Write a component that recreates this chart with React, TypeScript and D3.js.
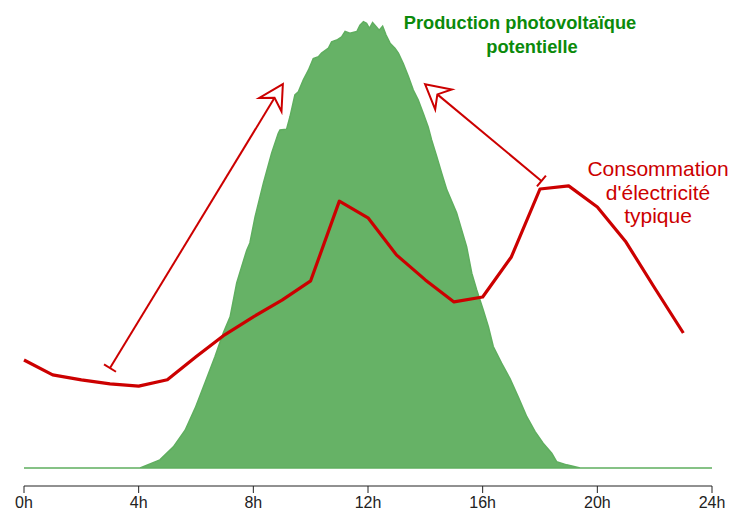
import { useEffect } from "react";
import * as d3 from "d3";

// potential PV output (hour, relative value 0-100)
const pvHours = [
  0, 4.05, 4.74, 5.21, 5.62, 5.97, 6.31, 6.66, 6.95, 7.19, 7.42, 7.59, 7.77, 7.88,
  8.06, 8.35, 8.64, 8.87, 8.93, 9.16, 9.28, 9.45, 9.57, 9.74, 9.92, 10.09, 10.27,
  10.38, 10.62, 10.73, 10.91, 11.08, 11.2, 11.37, 11.61, 11.72, 11.84, 11.95, 12.05,
  12.16, 12.28, 12.39, 12.51, 12.63, 12.77, 12.94, 13.06, 13.23, 13.41, 13.58, 13.75,
  13.93, 14.1, 14.22, 14.4, 14.57, 14.75, 15.09, 15.44, 15.62, 15.79, 16.02, 16.2,
  16.37, 16.66, 16.95, 17.24, 17.54, 17.83, 18.11, 18.41, 18.58, 18.93, 19.4, 24,
];
const pvValues = [
  0, 0, 1.8, 4.7, 8.4, 13.3, 18.9, 24.7, 30.0, 33.6, 41.1, 44.7, 48.4, 50.0,
  55.8, 63.3, 70.0, 74.4, 75.1, 75.3, 78.1, 82.9, 83.6, 86.2, 88.4, 91.0, 91.4,
  92.2, 93.3, 94.7, 95.1, 95.8, 97.0, 96.6, 97.0, 98.4, 99.2, 98.8, 97.7,
  99.0, 98.1, 97.3, 98.2, 96.2, 94.4, 93.3, 92.2, 89.9, 87.0, 84.0, 81.8,
  78.8, 75.8, 72.9, 69.2, 65.5, 61.8, 56.7, 49.2, 43.3, 39.6, 35.1, 31.4,
  27.0, 23.3, 19.9, 15.8, 11.4, 8.1, 5.5, 3.3, 1.4, 0.7, 0, 0,
];

// typical electricity consumption, one value per hour 0h..23h
const loadHours = d3.range(0, 24);
const loadValues = [
  24.0, 20.7, 19.6, 18.7, 18.2, 19.6, 24.7, 29.6, 33.6, 37.3, 41.6, 59.3,
  55.6, 47.3, 41.8, 36.9, 38.0, 46.9, 62.0, 62.7, 58.0, 50.2, 40.0, 30.0,
];

const tickHours = [0, 4, 8, 12, 16, 20, 24];

// annotation arrows: [startHour, startValue, tipHour, tipValue]
const arrows = [
  [3.0, 22.2, 9.03, 85.3],
  [18.05, 63.8, 13.99, 85.3],
];

const pvTitle = ["Production photovoltaïque", "potentielle"];
const loadTitle = ["Consommation", "d'électricité", "typique"];

const W = 736;
const H = 511;
const RED = "#cc0000";
const GREEN_FILL = "#66b266";
const GREEN_TEXT = "#0b8a0b";

function Arrow({ x1, y1, x2, y2 }: { x1: number; y1: number; x2: number; y2: number }) {
  const len = Math.hypot(x2 - x1, y2 - y1);
  const ux = (x2 - x1) / len;
  const uy = (y2 - y1) / len;
  const px = -uy;
  const py = ux;
  const headLen = 24;
  const half = 13;
  const notch = 16;
  const wing = (s: number) => [x2 - ux * headLen + px * half * s, y2 - uy * headLen + py * half * s];
  const n = [x2 - ux * notch, y2 - uy * notch];
  const w1 = wing(1);
  const w2 = wing(-1);
  const tee = 7;
  return (
    <g stroke={RED} strokeWidth={2} fill="none">
      <line x1={x1} y1={y1} x2={n[0]} y2={n[1]} />
      <line x1={x1 + px * tee} y1={y1 + py * tee} x2={x1 - px * tee} y2={y1 - py * tee} />
      <path d={`M${x2},${y2}L${w1[0]},${w1[1]}L${n[0]},${n[1]}L${w2[0]},${w2[1]}Z`} fill="white" strokeLinejoin="miter" />
    </g>
  );
}

export default function App() {
  useEffect(() => {
    document.body.style.margin = "0";
  }, []);

  const x = d3.scaleLinear().domain([0, 24]).range([24, 712]);
  const y = d3.scaleLinear().domain([0, 100]).range([468, 18]);

  const pvData = pvHours.map((h, i) => [h, pvValues[i]] as [number, number]);
  const loadData = loadHours.map((h, i) => [h, loadValues[i]] as [number, number]);

  const area = d3
    .area<[number, number]>()
    .x((d) => x(d[0]))
    .y0(y(0))
    .y1((d) => y(d[1]));
  const line = d3
    .line<[number, number]>()
    .x((d) => x(d[0]))
    .y((d) => y(d[1]));

  const axisY = 486;

  return (
    <svg width={W} height={H} style={{ display: "block", background: "white" }}>
      <path d={area(pvData) ?? ""} fill={GREEN_FILL} stroke="#5fae5f" strokeWidth={1.5} />

      <path d={line(loadData) ?? ""} fill="none" stroke={RED} strokeWidth={3.2} strokeLinejoin="round" />

      {arrows.map((a, i) => (
        <Arrow key={i} x1={x(a[0])} y1={y(a[1])} x2={x(a[2])} y2={y(a[3])} />
      ))}

      <g>
        <line x1={x(0)} x2={x(24)} y1={axisY} y2={axisY} stroke="#222" strokeWidth={1} />
        {tickHours.map((h) => (
          <g key={h} transform={`translate(${x(h)},${axisY})`}>
            <line y1={0} y2={7} stroke="#222" strokeWidth={1} />
            <text
              y={22}
              textAnchor="middle"
              fontFamily="'Liberation Sans Narrow', 'Arial Narrow', 'Liberation Sans', sans-serif"
              fontSize={16}
              fill="#222"
            >
              {h}h
            </text>
          </g>
        ))}
      </g>

      <g fontFamily="'Liberation Sans', Arial, sans-serif" fontWeight="bold" fontSize={18.3} fill={GREEN_TEXT} textAnchor="middle">
        <text x={520} y={29}>{pvTitle[0]}</text>
        <text x={532} y={53}>{pvTitle[1]}</text>
      </g>

      <g fontFamily="'Liberation Sans', Arial, sans-serif" fontSize={21} fill={RED} textAnchor="middle">
        {loadTitle.map((t, i) => (
          <text key={t} x={658} y={176 + i * 23.5}>
            {t}
          </text>
        ))}
      </g>
    </svg>
  );
}
